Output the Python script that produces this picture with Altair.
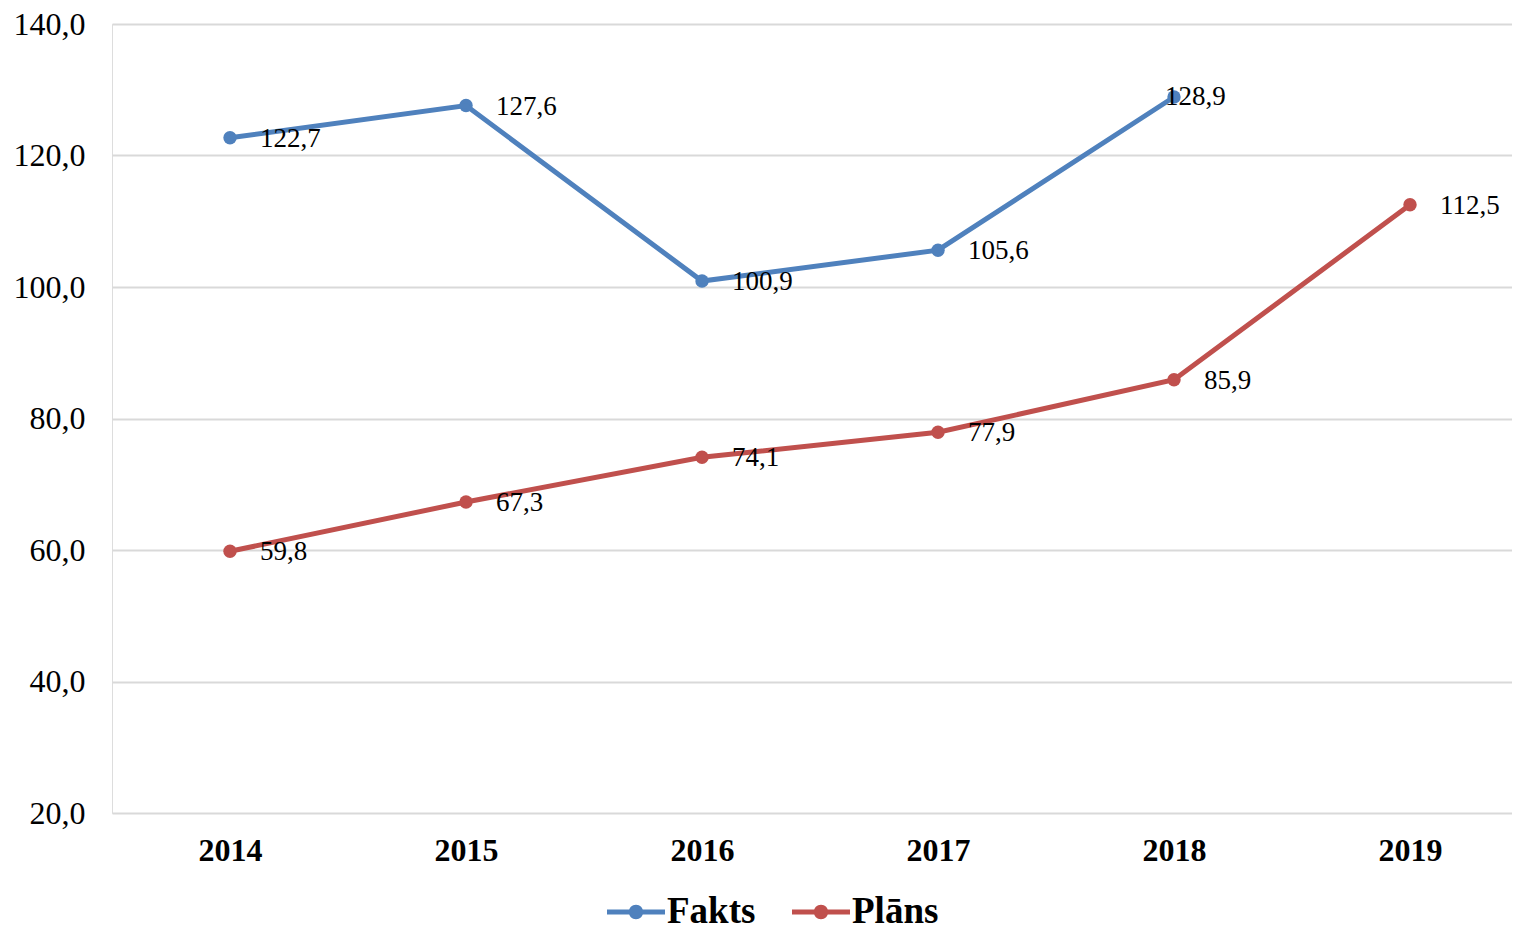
import altair as alt
import pandas as pd

years = ["2014", "2015", "2016", "2017", "2018", "2019"]
fakts = [122.7, 127.6, 100.9, 105.6, 128.9, None]
plans = [59.8, 67.3, 74.1, 77.9, 85.9, 112.5]
series_names = ["Fakts", "Plāns"]
colors = ["#4F81BD", "#C0504D"]

rows = []
for name, vals in zip(series_names, [fakts, plans]):
    for y, v in zip(years, vals):
        if v is not None:
            rows.append({"year": y, "series": name, "value": v})
df = pd.DataFrame(rows)

FONT = "Liberation Serif"
legend_path = ("M-1,-0.09 L-0.2,-0.09 L-0.2,0.09 L-1,0.09 Z "
               "M0.2,-0.09 L1,-0.09 L1,0.09 L0.2,0.09 Z "
               "M0.25,0 A0.25,0.25 0 1,1 -0.25,0 A0.25,0.25 0 1,1 0.25,0 Z")

x_enc = alt.X("year:N", sort=years,
              scale=alt.Scale(type="point", padding=0.4661, align=0.5364),
              axis=alt.Axis(title=None, domain=False, ticks=False, labelAngle=0,
                            labelFont=FONT, labelFontSize=32, labelFontWeight="bold",
                            labelColor="#000000", labelPadding=22, grid=False))
y_enc = alt.Y("value:Q",
              scale=alt.Scale(domain=[20, 140], nice=False, zero=False),
              axis=alt.Axis(title=None, domain=False, ticks=False, values=[20, 40, 60, 80, 100, 120, 140],
                            labelExpr="replace(format(datum.value, '.1f'), '.', ',')",
                            labelFont=FONT, labelFontSize=32, labelColor="#000000",
                            labelPadding=27, gridColor="#D9D9D9", gridWidth=2))
color_scale = alt.Scale(domain=series_names, range=colors)

legend = alt.Legend(title=None, orient="none", direction="horizontal",
                    legendX=495, legendY=859,
                    symbolType=legend_path, symbolSize=3364,
                    symbolStrokeWidth=0, symbolOpacity=1, labelFont=FONT,
                    labelFontSize=37, labelFontWeight="bold",
                    labelColor="#000000", labelOffset=2,
                    columnPadding=36)

base = alt.Chart(df).encode(x=x_enc, y=y_enc)

points = base.mark_point(filled=True, size=180, opacity=1).encode(
    color=alt.Color("series:N", scale=color_scale, legend=legend))

lines = base.mark_line(strokeWidth=5).encode(
    color=alt.Color("series:N", scale=color_scale, legend=legend))

label_base = base.transform_calculate(
    label="replace(format(datum.value, '.1f'), '.', ',')")

labels = label_base.transform_filter(
    "!(datum.series == 'Fakts' && datum.year == '2018')"
).mark_text(align="left", baseline="middle", dx=30, dy=1, font=FONT,
            fontSize=27, color="#000000").encode(text="label:N")

label_special = label_base.transform_filter(
    "datum.series == 'Fakts' && datum.year == '2018'"
).mark_text(align="left", baseline="middle", dx=-9, dy=0, font=FONT,
            fontSize=27, color="#000000").encode(text="label:N")

chart = alt.layer(points, lines, labels, label_special).properties(
    width=1400, height=789,
    autosize=alt.AutoSizeParams(type="none"),
    padding={"left": 104, "top": 16, "right": 0, "bottom": 122},
).configure_view(stroke="#FFFFFF", strokeWidth=0, strokeOpacity=0, fill="#FFFFFF").configure_axis(
    domain=False, ticks=False, domainOpacity=0, tickOpacity=0
).configure_axisY(domain=False, domainOpacity=0).configure_axisX(grid=False, gridOpacity=0
).configure(background="white")

chart.save("out.html", embed_options={"renderer": "svg", "actions": False})
